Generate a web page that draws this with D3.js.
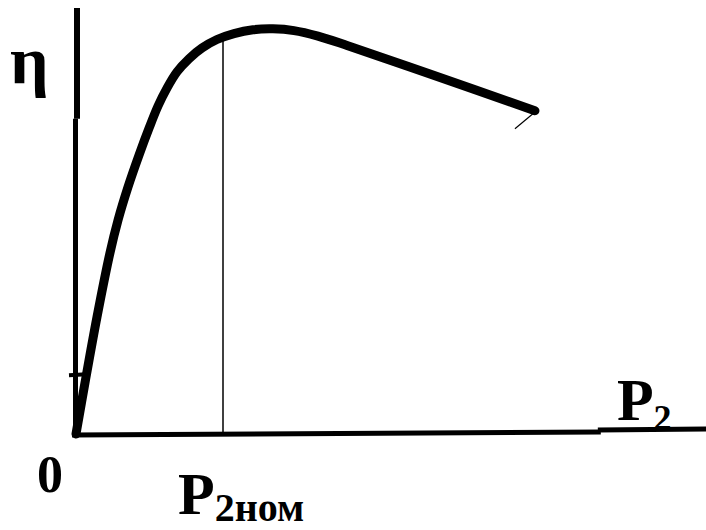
<!DOCTYPE html>
<html>
<head>
<meta charset="utf-8">
<script src="https://cdn.jsdelivr.net/npm/d3@7"></script>
<style>
    body { margin: 0; background: #fff; }
    svg { display: block; }
    .label { font-family: "Liberation Serif", "DejaVu Serif", serif; font-weight: bold; fill: #000; }
</style>
</head>
<body>
<svg id="chart" width="706" height="530"></svg>
<script>
// efficiency curve, P2 in units of P2nom, eta as fraction of axis height
const load = [0, 0.061, 0.143, 0.231, 0.286, 0.354, 0.429, 0.497, 0.558, 0.619, 0.687, 0.769, 0.857, 0.959, 1.075, 1.204, 1.340, 1.483, 1.646, 1.844, 2.408, 3.122];
const eta = [0, 0.120, 0.275, 0.425, 0.502, 0.580, 0.655, 0.718, 0.770, 0.812, 0.850, 0.881, 0.906, 0.926, 0.940, 0.949, 0.951, 0.947, 0.934, 0.912, 0.845, 0.759];
const nominalLoad = 1;

const yLabel = 'η';
const xLabel = ['P', '2'];
const nomLabel = ['P', '2ном'];
const originLabel = '0';

const width = 706, height = 530;
const origin = {x: 76, y: 434};

const svg = d3.select('#chart');

const x = d3.scaleLinear().domain([0, 1]).range([origin.x, 223]);
const y = d3.scaleLinear().domain([0, 1]).range([origin.y, 8]);

const pts = load.map((p, i) => [p, eta[i]]);

// axes, drawn as plain heavy strokes like the sketch
svg.append('line')
    .attr('x1', origin.x + 1).attr('y1', y(1))
    .attr('x2', origin.x + 1).attr('y2', y(0.74))
    .attr('stroke', '#000').attr('stroke-width', 6);
svg.append('line')
    .attr('x1', origin.x - 0.5).attr('y1', y(0.74))
    .attr('x2', origin.x - 0.5).attr('y2', origin.y + 3)
    .attr('stroke', '#000').attr('stroke-width', 5);

svg.append('path')
    .attr('d', d3.line()([[origin.x - 4, origin.y + 1], [x(3.57), origin.y - 2]]))
    .attr('stroke', '#000').attr('stroke-width', 5).attr('fill', 'none');
svg.append('path')
    .attr('d', d3.line()([[x(3.55), origin.y - 4], [width, origin.y - 5]]))
    .attr('stroke', '#000').attr('stroke-width', 5).attr('fill', 'none');

// small stub on the y axis
svg.append('line')
    .attr('x1', origin.x - 7).attr('y1', y(0.138))
    .attr('x2', x(0.07)).attr('y2', y(0.14))
    .attr('stroke', '#000').attr('stroke-width', 4);

// nominal load marker
const etaNom = d3.scaleLinear().domain(load).range(eta)(nominalLoad);
svg.append('line')
    .attr('x1', x(nominalLoad)).attr('y1', y(etaNom) - 2)
    .attr('x2', x(nominalLoad)).attr('y2', origin.y)
    .attr('stroke', '#000').attr('stroke-width', 1.5);

// the curve
svg.append('path')
    .datum(pts)
    .attr('d', d3.line().x(d => x(d[0])).y(d => y(d[1])).curve(d3.curveCatmullRom.alpha(0.5)))
    .attr('fill', 'none')
    .attr('stroke', '#000')
    .attr('stroke-width', 9)
    .attr('stroke-linecap', 'round')
    .attr('stroke-linejoin', 'round');

// thin hook under the curve end
const last = pts[pts.length - 1];
svg.append('line')
    .attr('x1', x(last[0]) - 2).attr('y1', y(last[1]) + 3)
    .attr('x2', x(last[0]) - 20).attr('y2', y(last[1]) + 18)
    .attr('stroke', '#000').attr('stroke-width', 1.2);

// labels
svg.append('text').attr('class', 'label')
    .attr('x', 10).attr('y', 84)
    .style('font-size', '68px')
    .text(yLabel);

svg.append('text').attr('class', 'label')
    .attr('x', 37).attr('y', 492)
    .style('font-size', '52px')
    .text(originLabel);

const tx = svg.append('text').attr('class', 'label')
    .attr('x', x(3.68)).attr('y', 420);
tx.append('tspan').style('font-size', '60px').text(xLabel[0]);
tx.append('tspan').style('font-size', '36px').attr('dy', 10).text(xLabel[1]);

const tn = svg.append('text').attr('class', 'label')
    .attr('x', 178).attr('y', 514);
tn.append('tspan').style('font-size', '60px').text(nomLabel[0]);
tn.append('tspan').style('font-size', '40px').attr('dy', 7).text(nomLabel[1]);
</script>
</body>
</html>
